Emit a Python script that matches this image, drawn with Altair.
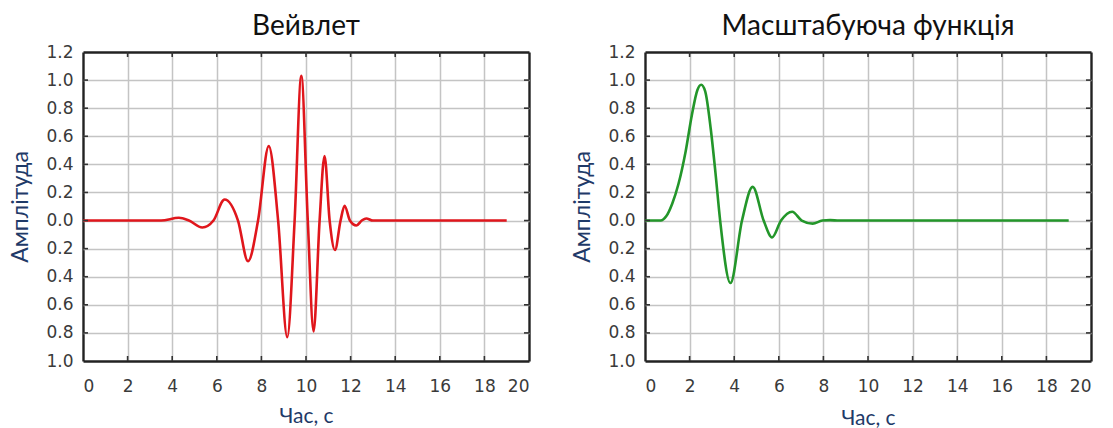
import altair as alt
import pandas as pd

# ---- data ----
wave_t = [0, 3.5, 4.3, 4.75, 5.35, 5.85, 6.35, 6.95, 7.4, 7.85, 8.33, 8.75, 9.16, 9.49, 9.79,
          10.08, 10.34, 10.61, 10.83, 11.06, 11.3, 11.55, 11.73, 11.97, 12.26, 12.5, 12.7, 13.0, 19.0]
wave_v = [0, 0, 0.02, 0.0, -0.05, 0.0, 0.15, 0.0, -0.29, 0.0, 0.53, 0.0, -0.83, 0.0, 1.03,
          0.0, -0.79, 0.0, 0.46, 0.0, -0.21, 0.0, 0.105, 0.0, -0.035, 0.0, 0.015, 0.0, 0.0]

scal_t = [0, 0.7, 0.95, 1.22, 1.5, 1.82, 2.1, 2.35, 2.52, 2.7, 2.95, 3.16, 3.37, 3.83,
          4.35, 4.83, 5.32, 5.7, 6.1, 6.6, 7.03, 7.52, 7.95, 8.3, 8.7, 19.0]
scal_v = [0, 0, 0.03, 0.12, 0.26, 0.49, 0.75, 0.93, 0.967, 0.92, 0.65, 0.34, 0.0, -0.445,
          0.0, 0.24, 0.0, -0.12, 0.0, 0.063, 0.0, -0.022, 0.0, 0.003, 0.0, 0.0]

x_ticks = [0, 2, 4, 6, 8, 10, 12, 14, 16, 18, 20]
y_ticks = [-1.0, -0.8, -0.6, -0.4, -0.2, 0.0, 0.2, 0.4, 0.6, 0.8, 1.0, 1.2]

titles = ["Вейвлет", "Масштабуюча функція"]
colors = ["#e0161c", "#23962a"]
x_title = "Час, с"
y_title = "Амплітуда"

W, H = 446, 309
TICK = 5
AX_COLOR = "#1f3a68"
GRID = "#c4c4c4"
FRAME = "#222222"

x_scale = alt.Scale(domain=[0, 20], nice=False, zero=False)
y_scale = alt.Scale(domain=[-1.0, 1.2], nice=False, zero=False)

x_edge = "datum.value <= 0 || datum.value >= 20"
y_edge = "datum.value <= -0.99 || datum.value >= 1.19"


def panel(t, v, title, color, xpad):
    df = pd.DataFrame({"t": t, "v": v})
    xt = pd.DataFrame({"t": x_ticks[1:-1]})
    yt = pd.DataFrame({"v": y_ticks[1:-1]})

    x_axis = alt.Axis(values=x_ticks, title=x_title, grid=True, domain=False, ticks=False,
                      labelPadding=17, titlePadding=xpad, format="d", titleFontSize=21,
                      gridColor={"condition": {"test": x_edge, "value": FRAME}, "value": GRID},
                      gridWidth={"condition": {"test": x_edge, "value": 2.4}, "value": 1.5})
    y_axis = alt.Axis(values=y_ticks, title=y_title, grid=True, domain=False, ticks=False,
                      labelPadding=10, titlePadding=13, titleFontSize=23,
                      labelExpr="format(abs(datum.value), '.1f')",
                      gridColor={"condition": {"test": y_edge, "value": FRAME}, "value": GRID},
                      gridWidth={"condition": {"test": y_edge, "value": 2.4}, "value": 1.5})

    line = alt.Chart(df).mark_line(color=color, strokeWidth=2.6, interpolate="monotone").encode(
        x=alt.X("t:Q", scale=x_scale, axis=x_axis),
        y=alt.Y("v:Q", scale=y_scale, axis=y_axis),
    )
    rule_kw = dict(color="#333333", strokeWidth=1.6)
    top = alt.Chart(xt).mark_rule(**rule_kw).encode(
        x=alt.X("t:Q", scale=x_scale, axis=x_axis), y=alt.value(0), y2=alt.value(TICK))
    bot = alt.Chart(xt).mark_rule(**rule_kw).encode(
        x=alt.X("t:Q", scale=x_scale, axis=x_axis), y=alt.value(H), y2=alt.value(H - TICK))
    lef = alt.Chart(yt).mark_rule(**rule_kw).encode(
        y=alt.Y("v:Q", scale=y_scale, axis=y_axis), x=alt.value(0), x2=alt.value(TICK))
    rig = alt.Chart(yt).mark_rule(**rule_kw).encode(
        y=alt.Y("v:Q", scale=y_scale, axis=y_axis), x=alt.value(W), x2=alt.value(W - TICK))

    return alt.layer(line, top, bot, lef, rig).properties(
        width=W, height=H,
        title=alt.TitleParams(title, fontSize=28, font="Lato", fontWeight="normal",
                              color="#111111", anchor="middle", offset=2),
    )


left = panel(wave_t, wave_v, titles[0], colors[0], 11)
right = panel(scal_t, scal_v, titles[1], colors[1], 13)

chart = alt.hconcat(left, right, spacing=41).properties(
    padding={"left": 9, "top": 13, "right": 5, "bottom": 0},
    background="white",
).configure_view(
    stroke=None
).configure_axis(
    labelFont="DejaVu Sans", labelFontSize=17, labelColor="#3a3a3a",
    titleFont="Lato", titleFontWeight="normal", titleColor=AX_COLOR,
)

chart.save("out.html", embed_options={"renderer": "svg", "actions": False})
